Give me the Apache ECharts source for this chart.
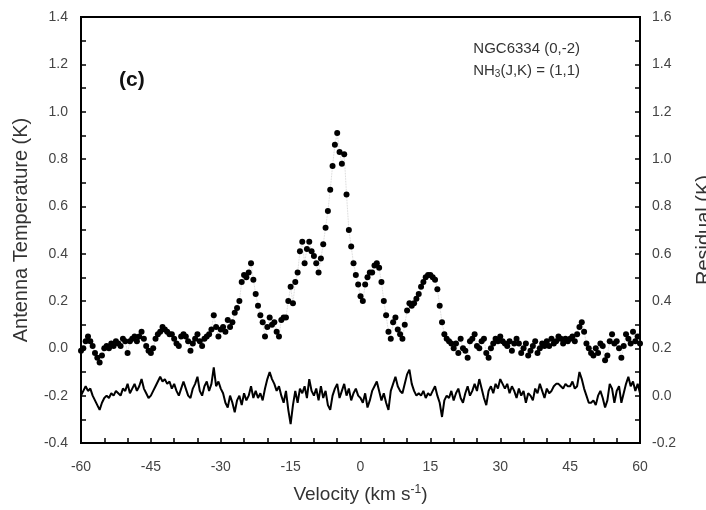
<!DOCTYPE html>
<html>
<head>
<meta charset="utf-8">
<script src="https://cdn.jsdelivr.net/npm/echarts@6/dist/echarts.min.js"></script>
<style>
  html, body { margin: 0; padding: 0; background: #fff; }
  #chart { width: 706px; height: 510px; }
</style>
</head>
<body>
<div id="chart"></div>
<script>
// channel grid of the spectrum (km/s)
const vStart = -60
const vStep = 0.5

// antenna temperature (K), left axis, one value per channel from -60 to 60
const spectrum = [
  -0.01, 0.00, 0.03, 0.05, 0.03, 0.01, -0.02, -0.04, -0.06, -0.03,
  0.00, 0.01, 0.00, 0.02, 0.01, 0.03, 0.02, 0.01, 0.04, 0.03,
  -0.02, 0.03, 0.04, 0.05, 0.03, 0.05, 0.07, 0.04, 0.01, -0.01,
  -0.02, 0.00, 0.04, 0.06, 0.07, 0.09, 0.08, 0.07, 0.06, 0.06,
  0.04, 0.02, 0.01, 0.05, 0.06, 0.05, 0.03, -0.01, 0.02, 0.04,
  0.06, 0.03, 0.01, 0.04, 0.05, 0.06, 0.08, 0.14, 0.09, 0.05,
  0.08, 0.09, 0.07, 0.12, 0.09, 0.11, 0.15, 0.17, 0.20, 0.28,
  0.31, 0.30, 0.32, 0.36, 0.29, 0.23, 0.18, 0.14, 0.11, 0.05,
  0.09, 0.13, 0.10, 0.11, 0.07, 0.05, 0.12, 0.13, 0.13, 0.20,
  0.26, 0.19, 0.28, 0.32, 0.41, 0.45, 0.36, 0.42, 0.45, 0.41,
  0.39, 0.36, 0.32, 0.38, 0.44, 0.51, 0.58, 0.67, 0.77, 0.86,
  0.91, 0.83, 0.78, 0.82, 0.65, 0.50, 0.43, 0.36, 0.31, 0.27,
  0.22, 0.20, 0.27, 0.30, 0.32, 0.32, 0.35, 0.36, 0.34, 0.28,
  0.20, 0.14, 0.07, 0.04, 0.11, 0.13, 0.08, 0.06, 0.04, 0.10,
  0.16, 0.19, 0.18, 0.19, 0.21, 0.23, 0.26, 0.28, 0.30, 0.31,
  0.31, 0.30, 0.29, 0.25, 0.18, 0.11, 0.06, 0.04, 0.03, 0.02,
  0.00, 0.02, -0.02, 0.04, 0.00, -0.01, -0.04, 0.03, 0.04, 0.06,
  0.01, 0.00, 0.03, 0.04, -0.02, -0.04, 0.00, 0.02, 0.04, 0.03,
  0.05, 0.03, 0.02, 0.01, 0.03, -0.01, 0.02, 0.04, 0.02, -0.02,
  0.00, 0.02, -0.03, -0.01, 0.01, 0.03, -0.02, 0.00, 0.02, 0.01,
  0.03, 0.01, 0.04, 0.02, 0.03, 0.05, 0.04, 0.02, 0.04, 0.03,
  0.04, 0.05, 0.03, 0.06, 0.09, 0.11, 0.07, 0.02, 0.00, -0.02,
  -0.03, 0.00, -0.02, 0.02, 0.01, -0.05, -0.03, 0.03, 0.06, 0.02,
  0.03, 0.00, -0.04, 0.01, 0.06, 0.04, 0.02, 0.07, 0.03, 0.05,
  0.02
]

// residual (K), right axis, same channels
const residual = [
  0.00, 0.02, 0.04, 0.02, 0.03, 0.00, -0.02, -0.04, -0.06, -0.03,
  -0.01, 0.00, -0.01, 0.01, 0.00, 0.02, 0.01, 0.00, 0.03, 0.02,
  0.05, 0.01, 0.03, 0.05, 0.02, 0.04, 0.07, 0.03, 0.01, -0.01,
  0.00, 0.02, 0.04, 0.06, 0.08, 0.06, 0.07, 0.05, 0.06, 0.03,
  0.05, 0.02, 0.00, 0.03, 0.06, 0.03, 0.00, -0.01, 0.03, 0.05,
  0.08, 0.02, 0.00, 0.04, 0.06, 0.02, 0.05, 0.12, 0.04, 0.06,
  0.03, 0.01, -0.03, -0.05, 0.00, -0.03, -0.07, -0.02, 0.00, -0.04,
  0.01, -0.02, 0.00, 0.04, -0.01, 0.02, -0.01, 0.01, -0.02, 0.03,
  0.07, 0.10, 0.07, 0.05, 0.02, 0.04, 0.00, -0.03, 0.02, -0.06,
  -0.12, -0.04, 0.02, -0.03, 0.03, 0.01, 0.04, -0.01, 0.07, 0.02,
  0.00, 0.03, -0.02, 0.04, -0.01, 0.02, -0.04, -0.06, 0.00, 0.03,
  0.05, -0.01, 0.02, 0.05, 0.00, 0.03, -0.02, 0.01, 0.03, 0.00,
  -0.01, -0.03, 0.01, -0.05, -0.02, 0.02, 0.04, 0.06, 0.02, -0.02,
  0.01, -0.03, -0.06, 0.02, 0.05, 0.08, 0.04, 0.02, 0.01, 0.05,
  0.09, 0.11, 0.05, 0.02, 0.00, 0.01, 0.00, 0.02, -0.01, 0.01,
  0.00, 0.02, 0.04, 0.00, -0.03, -0.09, -0.02, 0.00, -0.01, 0.02,
  -0.02, 0.01, 0.03, -0.01, -0.03, 0.01, 0.04, 0.00, 0.02, 0.05,
  0.02, 0.07, 0.03, -0.01, -0.04, 0.02, 0.04, 0.01, 0.05, 0.03,
  0.07, 0.05, 0.03, 0.05, 0.01, 0.04, 0.02, -0.01, 0.03, 0.00,
  0.02, -0.03, 0.01, 0.00, -0.02, 0.03, 0.01, 0.05, 0.02, -0.01,
  0.03, 0.01, 0.02, 0.04, 0.05, 0.05, 0.04, 0.03, 0.05, 0.04,
  0.04, 0.06, 0.03, 0.04, 0.10, 0.07, 0.03, 0.00, -0.03, -0.03,
  -0.02, -0.04, 0.00, 0.02, -0.01, -0.05, -0.02, 0.05, 0.03, -0.03,
  0.02, 0.04, -0.03, 0.01, 0.05, 0.08, 0.04, 0.06, 0.02, 0.05,
  0.01
]

const velocity = spectrum.map((_, i) => vStart + i * vStep)
const specData = velocity.map((v, i) => [v, spectrum[i]])
const resData = velocity.map((v, i) => [v, residual[i]])

const font = 'Liberation Sans, Arial, sans-serif'
const tickStyle = { color: '#000', width: 1.5 }

const chart = echarts.init(document.getElementById('chart'))
const option = {
  animation: false,
  backgroundColor: '#fff',
  textStyle: { fontFamily: font },
  grid: {
    left: 81, right: 66, top: 17, bottom: 67,
    show: true, borderColor: '#000', borderWidth: 2,
    outerBoundsMode: 'none'
  },
  xAxis: {
    type: 'value',
    min: -60, max: 60, interval: 15,
    name: '{a|Velocity (km s}{s|-1}{a|)}',
    nameLocation: 'middle',
    nameGap: 41,
    nameTextStyle: {
      rich: {
        a: { fontSize: 19, color: '#333', fontFamily: font },
        s: { fontSize: 12, color: '#333', fontFamily: font, verticalAlign: 'top', padding: [0, 0, 9, 0] }
      }
    },
    axisLine: { onZero: false, lineStyle: { color: '#000', width: 2 } },
    axisTick: { inside: true, length: 5, lineStyle: tickStyle },
    minorTick: { show: true, splitNumber: 3, length: 5, lineStyle: tickStyle },
    axisLabel: { color: '#444', fontSize: 14, margin: 17, fontFamily: font },
    splitLine: { show: false }
  },
  yAxis: [
    {
      type: 'value',
      min: -0.4, max: 1.4, interval: 0.2,
      name: 'Antenna Temperature (K)',
      nameLocation: 'middle',
      nameRotate: 90,
      nameGap: 50,
      nameTextStyle: { fontSize: 20, color: '#333', fontFamily: font },
      axisLine: { show: true, onZero: false, lineStyle: { color: '#000', width: 2 } },
      axisTick: { inside: true, length: 5, lineStyle: tickStyle },
      minorTick: { show: true, splitNumber: 2, length: 5, lineStyle: tickStyle },
      axisLabel: { color: '#444', fontSize: 14, margin: 13, fontFamily: font, formatter: v => v.toFixed(1) },
      splitLine: { show: false }
    },
    {
      type: 'value',
      position: 'right',
      min: -0.2, max: 1.6, interval: 0.2,
      name: 'Residual (K)',
      nameLocation: 'middle',
      nameRotate: 90,
      nameGap: 54,
      nameTextStyle: { fontSize: 20, color: '#333', fontFamily: font },
      axisLine: { show: true, onZero: false, lineStyle: { color: '#000', width: 2 } },
      axisTick: { inside: true, length: 5, lineStyle: tickStyle },
      minorTick: { show: true, splitNumber: 2, length: 5, lineStyle: tickStyle },
      axisLabel: { color: '#444', fontSize: 14, margin: 12, fontFamily: font, formatter: v => v.toFixed(1) },
      splitLine: { show: false }
    }
  ],
  graphic: [
    {
      type: 'text', left: 119, top: 70,
      style: { text: '(c)', font: 'bold 21px ' + font, fill: '#111' }
    },
    {
      type: 'text', right: 126, top: 41,
      style: { text: 'NGC6334 (0,-2)', font: '15px ' + font, fill: '#333', align: 'right' }
    },
    {
      type: 'text', right: 126, top: 63,
      style: {
        text: '{a|NH}{s|3}{a|(J,K) = (1,1)}',
        fill: '#333',
        rich: {
          a: { fontSize: 15, fontFamily: font, fill: '#333' },
          s: { fontSize: 10, fontFamily: font, fill: '#333', verticalAlign: 'bottom', padding: [7, 0, 0, 0] }
        }
      }
    }
  ],
  series: [
    {
      name: 'fit',
      type: 'line',
      yAxisIndex: 0,
      data: specData,
      showSymbol: false,
      lineStyle: { color: '#c8c8c8', width: 0.8, type: 'dotted' },
      z: 1
    },
    {
      name: 'spectrum',
      type: 'scatter',
      yAxisIndex: 0,
      data: specData,
      symbolSize: 6,
      itemStyle: { color: '#000', opacity: 1 },
      z: 3
    },
    {
      name: 'residual',
      type: 'line',
      yAxisIndex: 1,
      data: resData,
      showSymbol: false,
      lineStyle: { color: '#000', width: 2 },
      z: 2
    }
  ]
}
chart.setOption(option)
</script>
</body>
</html>
